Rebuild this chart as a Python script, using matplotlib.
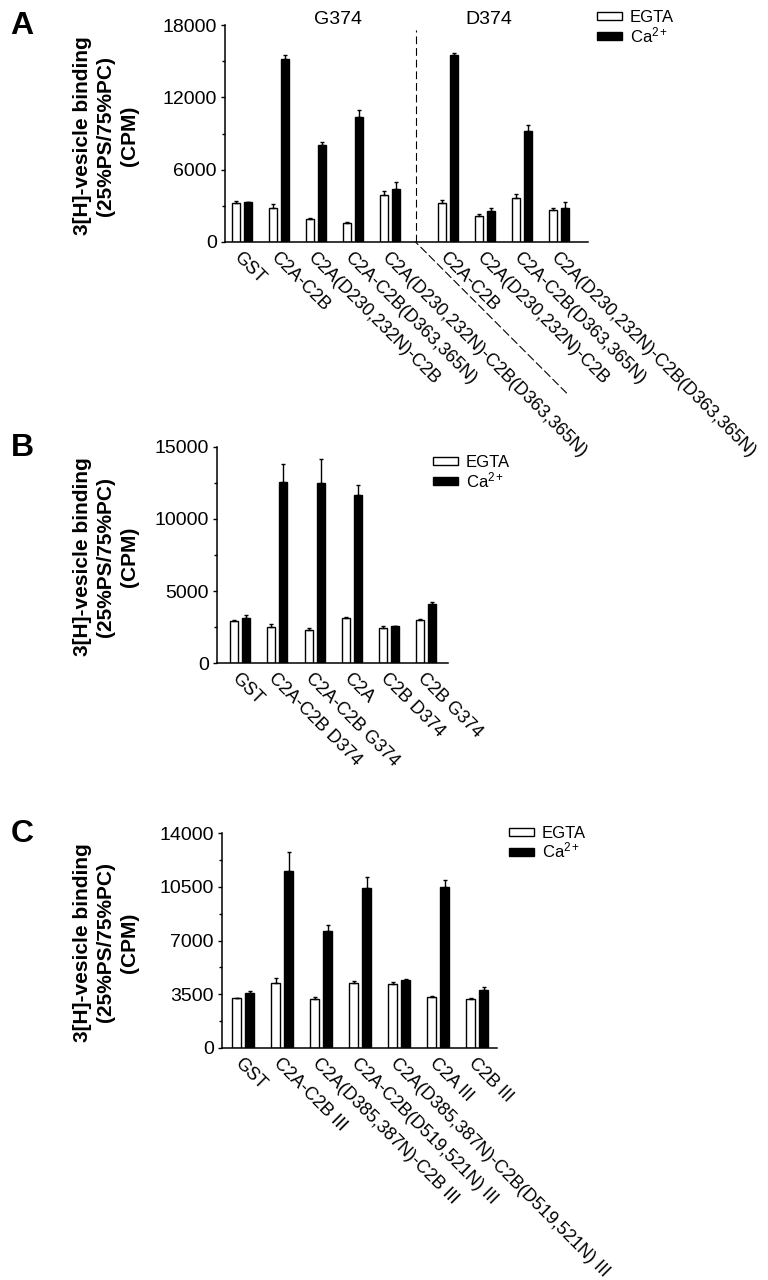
import matplotlib
matplotlib.use('Agg')
import matplotlib.pyplot as plt
import numpy as np
from matplotlib.patches import Patch
from matplotlib.ticker import MultipleLocator

plt.rcParams['font.family'] = ['Liberation Sans', 'DejaVu Sans']
plt.rcParams['mathtext.fontset'] = 'custom'
plt.rcParams['mathtext.rm'] = 'Liberation Sans'
plt.rcParams['mathtext.it'] = 'Liberation Sans:italic'
plt.rcParams['mathtext.bf'] = 'Liberation Sans:bold'

# ---------------- data ----------------
a_labels = ["GST", "C2A-C2B", "C2A(D230,232N)-C2B", "C2A-C2B(D363,365N)",
            "C2A(D230,232N)-C2B(D363,365N)",
            "C2A-C2B", "C2A(D230,232N)-C2B", "C2A-C2B(D363,365N)",
            "C2A(D230,232N)-C2B(D363,365N)"]
a_egta = [3220, 2830, 1930, 1600, 3920, 3220, 2130, 3640, 2660]
a_egta_err = [150, 300, 100, 100, 340, 300, 170, 360, 170]
a_ca = [3280, 15140, 8020, 10350, 4370, 15480, 2580, 9170, 2830]
a_ca_err = [0, 340, 300, 600, 600, 200, 250, 530, 480]
a_groups = ["G374", "D374"]

b_labels = ["GST", "C2A-C2B D374", "C2A-C2B G374", "C2A", "C2B D374", "C2B G374"]
b_egta = [2900, 2530, 2320, 3130, 2430, 2990]
b_egta_err = [100, 200, 120, 50, 150, 70]
b_ca = [3100, 12600, 12500, 11640, 2550, 4080]
b_ca_err = [200, 1200, 1700, 720, 0, 180]

c_labels = ["GST", "C2A-C2B III", "C2A(D385,387N)-C2B III",
            "C2A-C2B(D519,521N) III", "C2A(D385,387N)-C2B(D519,521N) III",
            "C2A III", "C2B III"]
c_egta = [3240, 4250, 3160, 4250, 4200, 3290, 3160]
c_egta_err = [0, 330, 170, 100, 90, 100, 70]
c_ca = [3570, 11500, 7620, 10430, 4420, 10500, 3770]
c_ca_err = [170, 1280, 400, 720, 100, 410, 220]

series_names = ["EGTA", "Ca$^{2+}$"]
ylabel = "3[H]-vesicle binding\n(25%PS/75%PC)\n(CPM)"

# ---------------- layout ----------------
W, H = 768, 1280
fig = plt.figure(figsize=(W / 100, H / 100), dpi=100)


def px_axes(l, t, r, b):
    return fig.add_axes([l / W, 1 - b / H, (r - l) / W, (b - t) / H])


def draw_panel(ax, pos, egta, egta_err, ca, ca_err, labels, ymax, major,
               pitch_px, first_center_px, left_px, right_px, bw_px, off_px):
    pos = np.asarray(pos, dtype=float)
    w = bw_px / pitch_px
    off = off_px / pitch_px
    ax.bar(pos - off, egta, width=w, color='white', edgecolor='black', linewidth=1.0, zorder=2)
    ax.bar(pos + off, ca, width=w, color='black', edgecolor='black', linewidth=1.0, zorder=2)
    z_e = np.zeros(len(egta))
    ax.errorbar(pos - off, egta, yerr=[z_e, egta_err], fmt='none', ecolor='black',
                elinewidth=1.0, capsize=1.6, capthick=1.0, zorder=3)
    ax.errorbar(pos + off, ca, yerr=[z_e, ca_err], fmt='none', ecolor='black',
                elinewidth=1.0, capsize=1.6, capthick=1.0, zorder=3)
    ax.set_xlim((left_px - first_center_px) / pitch_px, (right_px - first_center_px) / pitch_px)
    ax.set_ylim(0, ymax)
    ax.yaxis.set_major_locator(MultipleLocator(major))
    ax.yaxis.set_minor_locator(MultipleLocator(major / 2))
    for s in ['top', 'right']:
        ax.spines[s].set_visible(False)
    for s in ['left', 'bottom']:
        ax.spines[s].set_linewidth(1.1)
    ax.tick_params(axis='y', which='major', length=3, width=1.0, labelsize=14, pad=3)
    ax.tick_params(axis='y', which='minor', length=2.5, width=1.0)
    ax.set_xticks(pos)
    ax.set_xticklabels(labels, fontsize=13)
    ax.tick_params(axis='x', length=0, pad=5)
    for t in ax.get_xticklabels():
        t.set_rotation(-45)
        t.set_rotation_mode('anchor')
        t.set_ha('left')
        t.set_va('top')
    ax.yaxis.set_major_formatter(matplotlib.ticker.FuncFormatter(lambda v, p: f"{int(v)}"))


def add_legend(ax, x_px, y_px):
    handles = [Patch(facecolor='white', edgecolor='black', linewidth=1.0),
               Patch(facecolor='black', edgecolor='black', linewidth=1.0)]
    ax.legend(handles, series_names, loc='upper left',
              bbox_to_anchor=(x_px / W, 1 - y_px / H), bbox_transform=fig.transFigure,
              frameon=False, borderpad=0, borderaxespad=0, fontsize=12,
              handlelength=1.5, handleheight=0.42, handletextpad=0.45, labelspacing=0.0)


def add_side(letter, top_px, bottom_px):
    fig.text(22 / W, 1 - (top_px + 1) / H, letter, fontsize=23, fontweight='bold',
             ha='center', va='center')
    fig.text(106 / W, 1 - (top_px + bottom_px + 4) / 2 / H, ylabel, rotation=90,
             fontsize=15, fontweight='bold', ha='center', va='center',
             multialignment='center', linespacing=1.3)


# ---- Panel A ----
axA = px_axes(225, 25, 588, 242)
a_pos = np.r_[np.arange(5), np.arange(4) + 5.57]
draw_panel(axA, a_pos, a_egta, a_egta_err, a_ca, a_ca_err, a_labels, 18000, 6000,
           37.0, 242, 225, 588, 8, 6)
sep = 4.69
axA.axvline(sep, ymin=0, ymax=0.977, color='black', lw=0.8, linestyle=(0, (7, 3.5)), zorder=1)
axA.annotate('', xy=(sep, 0), xycoords='data', xytext=(151, -151), textcoords='offset pixels',
             arrowprops=dict(arrowstyle='-', lw=0.8, linestyle=(0, (7, 3.5)),
                             shrinkA=0, shrinkB=0, color='black'),
             annotation_clip=False)
fig.text(338 / W, 1 - 20 / H, a_groups[0], fontsize=14, ha='center', va='center')
fig.text(489 / W, 1 - 20 / H, a_groups[1], fontsize=14, ha='center', va='center')
add_legend(axA, 597, 10)
add_side('A', 25, 242)

# ---- Panel B ----
axB = px_axes(217, 447, 448, 663)
draw_panel(axB, np.arange(len(b_labels)), b_egta, b_egta_err, b_ca, b_ca_err, b_labels,
           15000, 5000, 37.3, 240, 217, 448, 8, 6)
add_legend(axB, 433, 455)
add_side('B', 447, 663)

# ---- Panel C ----
axC = px_axes(222, 833, 497, 1048)
draw_panel(axC, np.arange(len(c_labels)), c_egta, c_egta_err, c_ca, c_ca_err, c_labels,
           14000, 3500, 39.0, 243, 222, 497, 9, 6.5)
add_legend(axC, 509, 826)
add_side('C', 833, 1048)

fig.savefig('out.png', dpi=100)
